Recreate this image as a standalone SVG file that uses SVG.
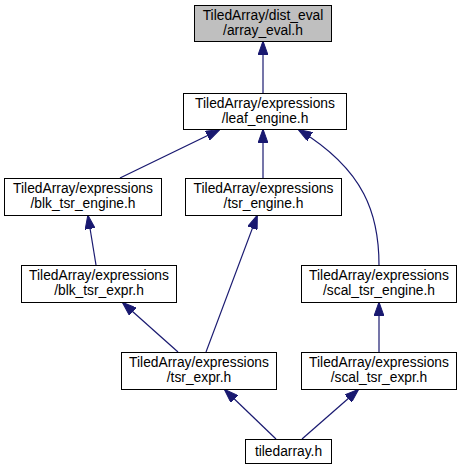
<svg xmlns="http://www.w3.org/2000/svg" width="463" height="469" viewBox="0 0 463 469">
<style>
.n rect{fill:#fff;stroke:#000;stroke-width:1}
.n text{font-family:"Liberation Sans",Arial,sans-serif;font-size:13.8px;text-anchor:middle;fill:#000}
.e path{fill:none;stroke:#191970;stroke-width:1.2;marker-end:url(#ah)}
</style>
<defs>
<marker id="ah" viewBox="0 0 14 10" refX="13" refY="5" markerWidth="14" markerHeight="10" orient="auto" markerUnits="userSpaceOnUse">
<path d="M0,0 L14,5 L0,10 z" fill="#191970" stroke="#191970"/>
</marker>
</defs>
<rect width="463" height="469" fill="#fff"/>
<g class="e" id="edges">
<path d="M263,93 L263,42"/>
<path d="M120,178 L219,130"/>
<path d="M263,178 L263,130"/>
<path d="M379,265 C379,215 365,170 299,130"/>
<path d="M96,265 L88,216"/>
<path d="M178,352 L123,303"/>
<path d="M206,352 L257,216"/>
<path d="M379,352 L379,303"/>
<path d="M276,439 L225,390"/>
<path d="M302,439 L358,390"/>
</g>
<g class="n" id="array_eval">
<rect x="194.5" y="5.5" width="137" height="36" style="fill:#bfbfbf"/>
<text x="263" y="20">TiledArray/dist_eval</text>
<text x="263" y="35">/array_eval.h</text>
</g>
<g class="n" id="leaf_engine">
<rect x="183.5" y="93.5" width="163" height="36"/>
<text x="265" y="108">TiledArray/expressions</text>
<text x="265" y="123">/leaf_engine.h</text>
</g>
<g class="n" id="blk_tsr_engine">
<rect x="4.5" y="178.5" width="157" height="37"/>
<text x="83" y="193">TiledArray/expressions</text>
<text x="83" y="208">/blk_tsr_engine.h</text>
</g>
<g class="n" id="tsr_engine">
<rect x="185.5" y="178.5" width="156" height="37"/>
<text x="263.5" y="193">TiledArray/expressions</text>
<text x="263.5" y="208">/tsr_engine.h</text>
</g>
<g class="n" id="blk_tsr_expr">
<rect x="21.5" y="265.5" width="155" height="37"/>
<text x="99" y="280">TiledArray/expressions</text>
<text x="99" y="295">/blk_tsr_expr.h</text>
</g>
<g class="n" id="scal_tsr_engine">
<rect x="301.5" y="265.5" width="155" height="37"/>
<text x="379" y="280">TiledArray/expressions</text>
<text x="379" y="295">/scal_tsr_engine.h</text>
</g>
<g class="n" id="tsr_expr">
<rect x="121.5" y="352.5" width="155" height="37"/>
<text x="199" y="367">TiledArray/expressions</text>
<text x="199" y="382">/tsr_expr.h</text>
</g>
<g class="n" id="scal_tsr_expr">
<rect x="301.5" y="352.5" width="155" height="37"/>
<text x="379" y="367">TiledArray/expressions</text>
<text x="379" y="382">/scal_tsr_expr.h</text>
</g>
<g class="n" id="tiledarray">
<rect x="245.5" y="439.5" width="86" height="24"/>
<text x="288.5" y="456">tiledarray.h</text>
</g>
</svg>
